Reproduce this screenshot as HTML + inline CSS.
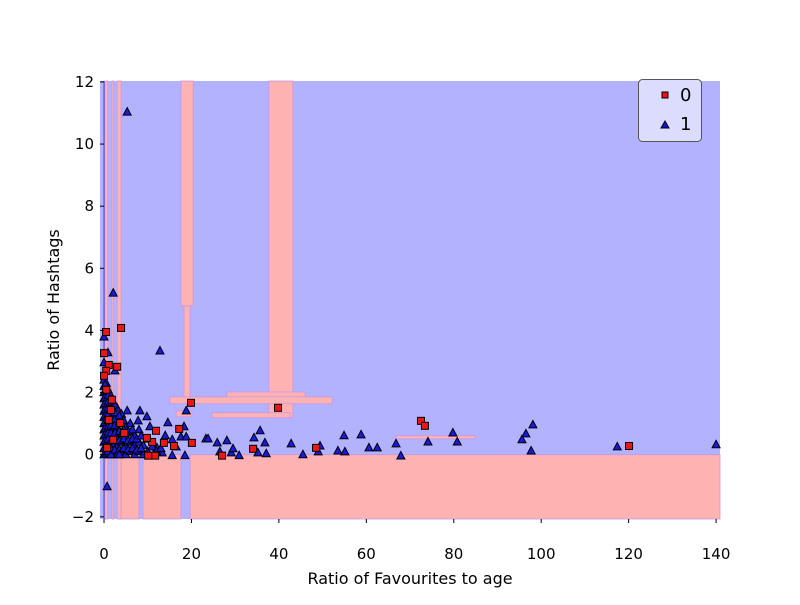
<!DOCTYPE html>
<html><head><meta charset="utf-8"><style>
html,body{margin:0;padding:0;background:#fff;}
svg text{font-family:"DejaVu Sans","Liberation Sans",sans-serif;}
</style></head><body>
<svg id="chart" width="800" height="600" xmlns="http://www.w3.org/2000/svg">
<g id="regions"></g>
<g id="points"></g>
<g id="axes"></g>
<text x="410" y="584" font-size="16" text-anchor="middle">Ratio of Favourites to age</text>
<text x="59" y="300" font-size="16" text-anchor="middle" transform="rotate(-90 59 300)">Ratio of Hashtags</text>
<g>
<rect x="638.5" y="79.5" width="63" height="62" rx="4" fill="#dcdcff" stroke="#555" stroke-width="1"/>
<g>
<rect x="662" y="92" width="6" height="6" fill="#ee1111" stroke="#000" stroke-width="1"/>
<text x="680" y="101" font-size="18">0</text></g>
<g>
<polygon points="665,121 669,128 661,128" fill="#1111dd" stroke="#000" stroke-width="1"/>
<text x="680" y="130" font-size="18">1</text></g>
</g>
</svg>
<script>
const xDomain=[-0.92,140.9];
const yDomain=[-2.07,12.03];
const xTicks=[0,20,40,60,80,100,120,140];
const yTicks=[-2,0,2,4,6,8,10,12];
// class-0 (red) regions: [x0,x1,y0,y1]
const redRegions=[[19.7,140.9,-2.07,0],[8.9,17.6,-2.07,0],[3.7,8.0,-2.07,0],[0.2,0.9,-2.07,12.03],[1.8,2.2,-2.07,12.03],[3.0,3.9,-2.07,12.03],
[17.6,20.4,4.79,12.03],[18.3,19.7,1.77,4.79],[37.7,43.2,1.19,12.03],[28.1,46.0,1.86,2.02],[15.1,52.2,1.64,1.86],[24.7,42.6,1.19,1.35],[66.8,84.9,0.51,0.61],[16.5,20.1,1.22,1.41]];
const class0X=[0.46,3.9,0,1.1,3.0,0.5,0,19.9,39.8,17.2,11.9,11.0,13.7,20.1,16.0,27.0,34.1,48.5,11.7,10.1,9.8,1.8,1.6,3.7,4.6,72.5,73.4,120.1,0.5,1.1,2.1,0.7];
const class0Y=[3.95,4.08,3.27,2.89,2.83,2.70,2.54,1.67,1.51,0.83,0.77,0.41,0.38,0.38,0.28,-0.03,0.19,0.22,-0.03,-0.03,0.54,1.77,1.44,1.02,0.70,1.09,0.93,0.28,2.09,1.12,0.48,0.22];
const class1X=[5.3,2.1,12.8,0.7,0,0.9,0,2.5,0.9,140.0,117.4,98.1,96.5,95.6,97.7,58.8,60.6,62.5,66.8,67.9,74.1,79.8,80.8,
18.8,5.3,8.2,9.8,7.8,14.6,10.5,14.0,15.6,18.3,17.6,18.8,23.3,23.8,25.9,28.1,35.7,34.3,36.8,26.5,29.1,30.9,35.2,37.1,42.8,45.5,49.4,49.0,54.9,55.1,53.5,16.5,15.6,18.5,13.3,12.1,29.5,
0,0,0,0,0,0,0,0,0,0,0,0,0,
0.5,0.5,0.5,0.5,0.5,0.5,0.5,0.5,0.5,0.5,0.5,0.5,
1.2,1.2,1.2,1.2,1.2,1.2,1.2,1.2,1.2,
2,2,2,2,2,2,2,
3,3,3,3,3,3,
4,4,4,4,4,
5,5,5,5,
6,6,6,6,
7,7,7,
8,8,8,
9,9,
10,10,
0.25,0.25,0.25,0.25,0.25,0.25,0.25,0.25,0.25,0.25,0.25,0.25,
0.9,0.9,0.9,0.9,0.9,0.9,0.9,0.9,0.9,0.9,0.9,
1.6,1.6,1.6,1.6,1.6,1.6,1.6,1.6,
2.5,2.5,2.5,2.5,2.5,2.5,2.5,
3.5,3.5,3.5,3.5,3.5,3.5,
4.5,4.5,4.5,4.5,
5.5,5.5,5.5,
6.5,6.5,6.5,
7.5,7.5,8.5,8.5,11,12,13];
const class1Y=[11.03,5.2,3.34,-1.03,3.79,3.28,2.96,2.70,2.09,0.32,0.25,0.96,0.67,0.48,0.12,0.64,0.22,0.22,0.35,-0.04,0.41,0.70,0.41,
1.41,1.41,1.41,1.22,1.09,1.03,0.90,0.61,0.48,0.90,0.57,0.57,0.51,0.51,0.38,0.45,0.77,0.54,0.38,0.09,0.06,-0.03,0.06,0.03,0.35,0.0,0.28,0.09,0.61,0.09,0.12,0.25,-0.03,-0.03,0.06,0.22,0.19,
0,0.2,0.4,0.6,0.8,1.0,1.2,1.4,1.6,1.8,2.0,2.2,2.4,
0.1,0.3,0.5,0.7,0.9,1.1,1.3,1.5,1.7,1.9,2.1,2.3,
0,0.25,0.5,0.75,1.0,1.25,1.5,1.75,2.0,
0.1,0.35,0.6,0.85,1.1,1.35,1.6,
0,0.3,0.6,0.9,1.2,1.5,
0.1,0.4,0.7,1.0,1.3,
0,0.3,0.6,0.9,
0.1,0.4,0.7,1.0,
0,0.3,0.6,
0.1,0.4,0.8,
0,0.3,
0.1,0.5,
0.05,0.25,0.45,0.65,0.85,1.05,1.25,1.45,1.65,1.85,2.05,2.25,
0.1,0.3,0.5,0.7,0.9,1.1,1.3,1.5,1.7,1.9,2.1,
0.0,0.2,0.45,0.7,0.95,1.2,1.45,1.7,
0.15,0.45,0.7,0.95,1.15,1.35,1.6,
0.15,0.45,0.75,1.05,1.25,0.0,
0.2,0.5,0.8,1.1,
0.15,0.45,0.75,
0.2,0.5,0.8,
0.15,0.5,0.2,0.6,0.25,0.1,0.2];

const PX0=100,PX1=720,PY0=81,PY1=519;
function sx(v){return PX0+(v-xDomain[0])/(xDomain[1]-xDomain[0])*(PX1-PX0);}
function sy(v){return PY1-(v-yDomain[0])/(yDomain[1]-yDomain[0])*(PY1-PY0);}
const NS="http://www.w3.org/2000/svg";
function mk(tag,attrs,parent){const e=document.createElementNS(NS,tag);for(const k in attrs)e.setAttribute(k,attrs[k]);parent.appendChild(e);return e;}
const R=document.getElementById('regions'),P=document.getElementById('points'),A=document.getElementById('axes');
let bg=mk('rect',{x:PX0,y:PY0,width:PX1-PX0,height:PY1-PY0,fill:'#b2b2ff'},R);


redRegions.forEach(r=>{
  const x0=sx(r[0]),x1=sx(r[1]),y0=sy(r[3]),y1=sy(r[2]);
  const e=mk('rect',{x:x0,y:y0,width:Math.max(1,x1-x0),height:Math.max(1,y1-y0),fill:'#ffb2b2',stroke:'#c796e6','stroke-width':0.8},R);
  
  
});
let zl=mk('line',{x1:sx(0),x2:sx(0),y1:PY0,y2:PY1,stroke:'#4040d0','stroke-width':1},R);


class1X.forEach((v,i)=>{
  const x=sx(v),y=sy(class1Y[i]);
  const e=mk('polygon',{points:`${x},${y-4.5} ${x+4},${y+3} ${x-4},${y+3}`,fill:'#1a1add',stroke:'#000','stroke-width':1},P);
  
  
});
class0X.forEach((v,i)=>{
  const x=sx(v),y=sy(class0Y[i]);
  const e=mk('rect',{x:x-3.5,y:y-3.5,width:7,height:7,fill:'#ee1515',stroke:'#000','stroke-width':1},P);
  
  
});
xTicks.forEach(t=>{
  const x=sx(t);
  mk('line',{x1:x,x2:x,y1:PY1,y2:PY1+4,stroke:'#000'},A);
  const e=mk('text',{x:x,y:559,'font-size':15,'text-anchor':'middle'},A);
  e.textContent=String(t);
  
  
});
yTicks.forEach(t=>{
  const y=sy(t);
  mk('line',{x1:PX0,x2:PX0+4,y1:y,y2:y,stroke:'#000'},A);
  const e=mk('text',{x:94,y:y+5,'font-size':15,'text-anchor':'end'},A);
  e.textContent=(t<0?'\u2212':'')+Math.abs(t);
  
  
});
</script>
</body></html>
